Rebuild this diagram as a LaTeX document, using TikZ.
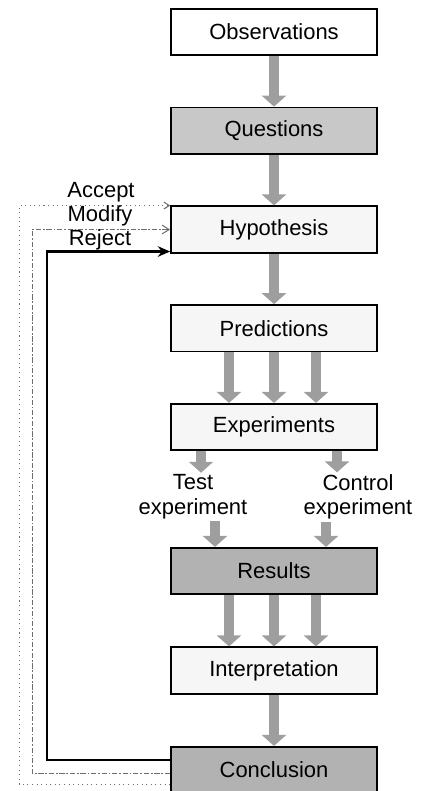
\documentclass[tikz,border=0pt]{standalone}
\usepackage{fontspec}
\setmainfont{Liberation Sans}
\usepackage{xcolor}
\usepackage{tikz}
\usetikzlibrary{arrows.meta,positioning,calc}
\definecolor{stipple}{RGB}{158,158,158}
\definecolor{lightbox}{RGB}{246,246,246}
\definecolor{midbox}{RGB}{200,200,200}
\definecolor{darkbox}{RGB}{178,178,178}
\definecolor{faint}{RGB}{110,110,110}
\tikzset{
  stage/.style={draw=black,line width=1pt,minimum width=4.12cm,minimum height=0.93cm,
    font=\fontsize{12.5}{14}\selectfont,align=center},
  bigarrow/.style={draw=stipple,line width=0.2cm,-{Triangle[width=0.48cm,length=0.22cm]}},
  label/.style={font=\fontsize{12.5}{14}\selectfont,align=center,inner sep=1pt},
  reject/.style={draw=black,line width=1.2pt,-{Stealth[length=7pt,width=6pt]}},
  modify/.style={draw=faint,line width=0.6pt,dash pattern=on 3pt off 1pt on 1pt off 1pt,-{Straight Barb[length=4pt,width=5pt]}},
  accept/.style={draw=faint,line width=0.6pt,dotted,-{Straight Barb[length=3pt,width=4pt]}}
}

\begin{document}
\begin{tikzpicture}
\useasboundingbox (0,0) rectangle (8.56,-15.82);
% main column
\node[stage,fill=white] (obs) at (5.48,-0.64) {Observations};
\node[stage,fill=midbox,below=1.01cm of obs] (que) {Questions};
\node[stage,fill=lightbox,below=1.01cm of que] (hyp) {Hypothesis};
\node[stage,fill=lightbox,below=1.01cm of hyp] (pred) {Predictions};
\node[stage,fill=lightbox,below=1.01cm of pred] (exp) {Experiments};
\node[stage,fill=darkbox,below=1.915cm of exp] (res) {Results};
\node[stage,fill=lightbox,below=1.025cm of res] (int) {Interpretation};
\node[stage,fill=darkbox,below=1.025cm of int] (con) {Conclusion};

% experiment branches
\node[label] (test) at (3.86,-9.94) {Test\\experiment};
\node[label] (ctrl) at (7.16,-9.94) {Control\\experiment};

% block arrows
\draw[bigarrow] (obs) -- (que);
\draw[bigarrow] (que) -- (hyp);
\draw[bigarrow] (hyp) -- (pred);
\foreach \dx in {-0.9,0,0.84}{
  \draw[bigarrow] ([xshift=\dx cm]pred.south) -- ([xshift=\dx cm]exp.north);
  \draw[bigarrow] ([xshift=\dx cm]res.south) -- ([xshift=\dx cm]int.north);
}
\draw[bigarrow] ([xshift=-1.46cm]exp.south) -- ([xshift=-1.46cm]exp.south |- test.north);
\draw[bigarrow] ([xshift=-1.18cm]res.north |- test.south) -- ([xshift=-1.18cm]res.north);
\draw[bigarrow] ([xshift=1.26cm]exp.south) -- ([xshift=1.26cm]exp.south |- ctrl.north);
\draw[bigarrow] ([xshift=1.04cm]res.north |- ctrl.south) -- ([xshift=1.04cm]res.north);
\draw[bigarrow] (int) -- (con);

% feedback loops
\draw[accept] ([yshift=-0.28cm]con.west) -- ++(-3.02cm,0) |- ([yshift=0.48cm]hyp.west);
\draw[modify] ([yshift=-0.06cm]con.west) -- ++(-2.76cm,0) |- (hyp.west);
\draw[reject] ([yshift=0.2cm]con.west) -- ++(-2.46cm,0) |- ([yshift=-0.44cm]hyp.west);
\node[label] (acc) at (2.02,-3.84) {Accept};
\node[label] (mod) at (2.0,-4.32) {Modify};
\node[label] (rej) at (2.0,-4.8) {Reject};
\end{tikzpicture}
\end{document}
